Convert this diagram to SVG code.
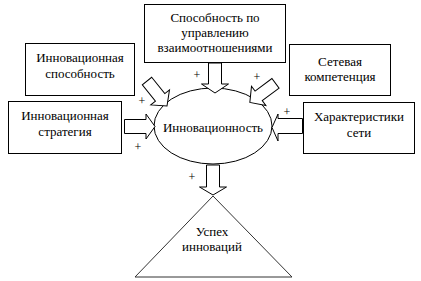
<svg xmlns="http://www.w3.org/2000/svg" width="421" height="281" viewBox="0 0 421 281">
<style>
.box{fill:#fff;stroke:#000;stroke-width:1}
.arr{fill:#fff;stroke:#000;stroke-width:1;stroke-linejoin:miter}
</style>
<rect width="421" height="281" fill="#fff"/>
<g id="node-relations">
<rect class="box" x="144.5" y="4.5" width="141" height="58"/>
<text font-family="Liberation Serif" font-size="13" text-anchor="middle" x="215" y="22">Способность по</text>
<text font-family="Liberation Serif" font-size="13" text-anchor="middle" x="215" y="37">управлению</text>
<text font-family="Liberation Serif" font-size="13" text-anchor="middle" x="215" y="52">взаимоотношениями</text>
</g>
<g id="node-capability">
<rect class="box" x="25.5" y="43.5" width="109" height="52"/>
<text font-family="Liberation Serif" font-size="13" text-anchor="middle" x="80" y="62">Инновационная</text>
<text font-family="Liberation Serif" font-size="13" text-anchor="middle" x="80" y="78">способность</text>
</g>
<g id="node-strategy">
<rect class="box" x="8.5" y="101.5" width="113" height="52"/>
<text font-family="Liberation Serif" font-size="13" text-anchor="middle" x="65" y="120">Инновационная</text>
<text font-family="Liberation Serif" font-size="13" text-anchor="middle" x="65" y="136">стратегия</text>
</g>
<g id="node-competence">
<rect class="box" x="289.5" y="44.5" width="101" height="51"/>
<text font-family="Liberation Serif" font-size="13" text-anchor="middle" x="340" y="66">Сетевая</text>
<text font-family="Liberation Serif" font-size="13" text-anchor="middle" x="340" y="81">компетенция</text>
</g>
<g id="node-characteristics">
<rect class="box" x="303.5" y="102.5" width="111" height="51"/>
<text font-family="Liberation Serif" font-size="13" text-anchor="middle" x="359" y="121">Характеристики</text>
<text font-family="Liberation Serif" font-size="13" text-anchor="middle" x="359" y="137">сети</text>
</g>
<g id="node-innovativeness">
<ellipse cx="213" cy="126" rx="59" ry="38" fill="#fff" stroke="#000" stroke-width="1"/>
<text font-family="Liberation Serif" font-size="13" text-anchor="middle" x="213" y="132">Инновационность</text>
</g>
<g id="node-success">
<polygon points="213,196 292,277 135,277" fill="#fff" stroke="#333" stroke-width="1"/>
<text font-family="Liberation Serif" font-size="13" text-anchor="middle" x="212" y="236">Успех</text>
<text font-family="Liberation Serif" font-size="13" text-anchor="middle" x="212" y="251">инноваций</text>
</g>
<g id="connectors">
<path class="arr" d="M208.5,63 L221.5,63 L221.5,84 L228.5,84 L215,93 L201.5,84 L208.5,84 Z"/>
<path class="arr" d="M124.5,119.5 L146,119.5 L146,114 L155,126.5 L146,139 L146,133.5 L124.5,133.5 Z"/>
<path class="arr" d="M302.5,118.5 L278,118.5 L278,114 L272,127.5 L278,141 L278,133.5 L302.5,133.5 Z"/>
<path class="arr" d="M206.5,165 L219.5,165 L219.5,187 L226.5,187 L213,195 L199.5,187 L206.5,187 Z"/>
<path class="arr" transform="translate(147,81) rotate(51.3)" d="M0,-6 L21,-6 L21,-12 L32,0 L21,12 L21,6 L0,6 Z"/>
<path class="arr" transform="translate(275.5,83.3) rotate(143.3)" d="M0,-6 L21,-6 L21,-12 L32,0 L21,12 L21,6 L0,6 Z"/>
<text font-family="Liberation Serif" font-size="12" text-anchor="middle" x="197" y="79">+</text>
<text font-family="Liberation Serif" font-size="12" text-anchor="middle" x="257" y="81">+</text>
<text font-family="Liberation Serif" font-size="12" text-anchor="middle" x="142" y="105">+</text>
<text font-family="Liberation Serif" font-size="12" text-anchor="middle" x="138" y="151">+</text>
<text font-family="Liberation Serif" font-size="12" text-anchor="middle" x="287" y="116">+</text>
<text font-family="Liberation Serif" font-size="12" text-anchor="middle" x="192" y="181">+</text>
</g>
</svg>
